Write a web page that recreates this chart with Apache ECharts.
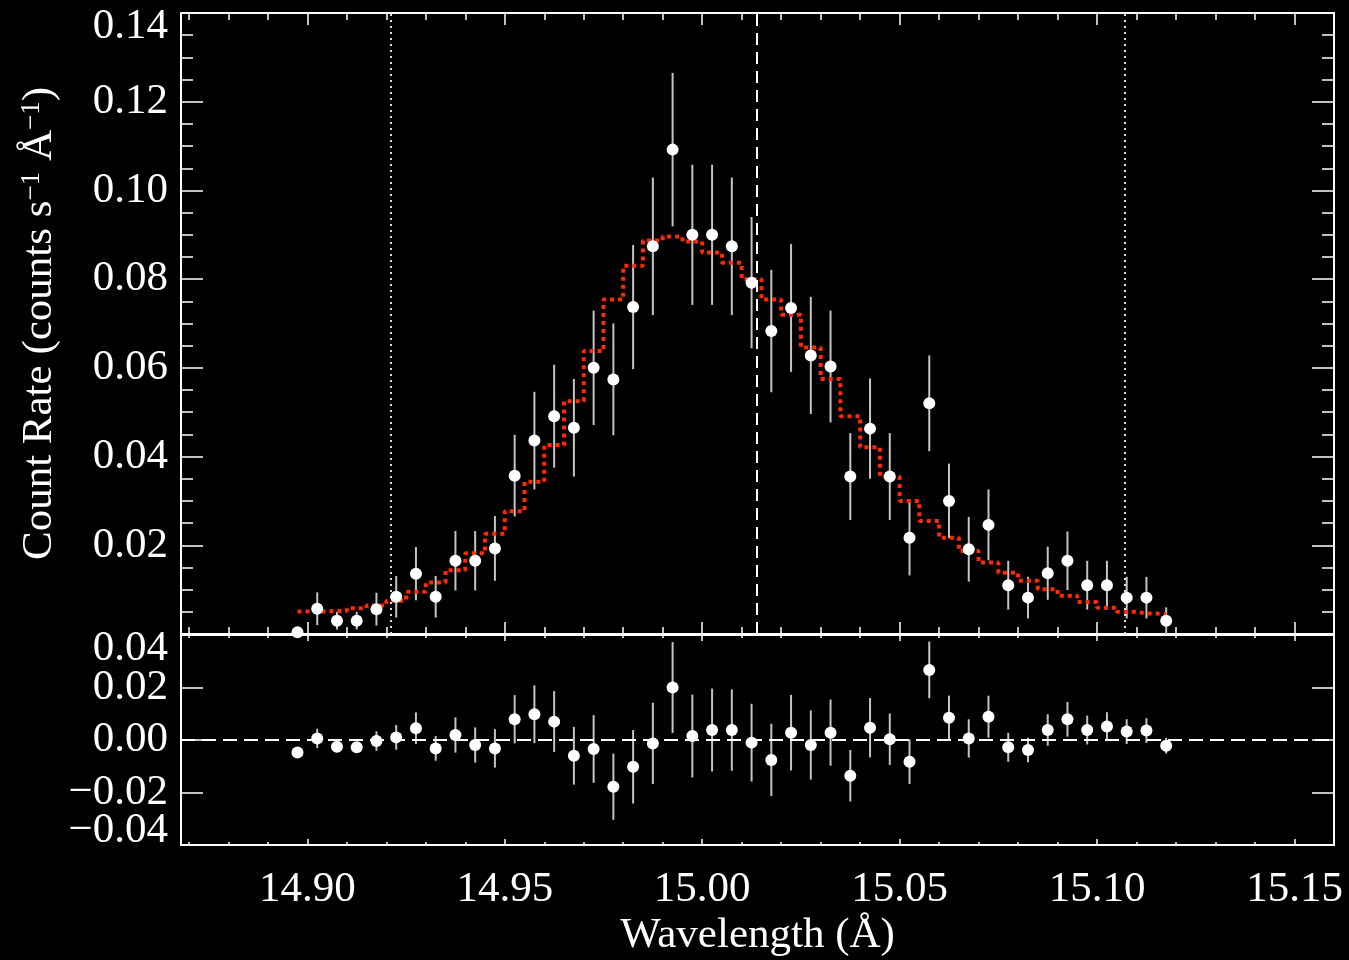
<!DOCTYPE html>
<html>
<head>
<meta charset="utf-8">
<script src="https://cdn.jsdelivr.net/npm/echarts@6/dist/echarts.min.js"></script>
<style>
html,body{margin:0;padding:0;background:#000;}
#chart{width:1349px;height:960px;}
</style>
</head>
<body>
<div id="chart"></div>
<script>
// ---- data ----
const wavelength = [14.8975,14.9025,14.9075,14.9125,14.9175,14.9225,14.9275,14.9325,14.9375,14.9425,
  14.9475,14.9525,14.9575,14.9625,14.9675,14.9725,14.9775,14.9825,14.9875,14.9925,
  14.9975,15.0025,15.0075,15.0125,15.0175,15.0225,15.0275,15.0325,15.0375,15.0425,
  15.0475,15.0525,15.0575,15.0625,15.0675,15.0725,15.0775,15.0825,15.0875,15.0925,
  15.0975,15.1025,15.1075,15.1125,15.1175];
const countRate = [0.0004,0.0057,0.0030,0.0030,0.0056,0.0084,0.0136,0.0084,0.0165,0.0165,
  0.0193,0.0357,0.0436,0.0491,0.0465,0.0600,0.0574,0.0737,0.0874,0.1092,
  0.0900,0.0900,0.0874,0.0792,0.0683,0.0735,0.0628,0.0603,0.0355,0.0463,
  0.0355,0.0217,0.0520,0.0300,0.0191,0.0246,0.0110,0.0082,0.0137,0.0165,
  0.0110,0.0110,0.0082,0.0082,0.0030];
const countErr = [0.0010,0.0037,0.0020,0.0020,0.0037,0.0047,0.0060,0.0047,0.0067,0.0067,
  0.0073,0.0092,0.0110,0.0116,0.0110,0.0129,0.0126,0.0140,0.0155,0.0173,
  0.0158,0.0158,0.0155,0.0148,0.0138,0.0144,0.0132,0.0126,0.0098,0.0113,
  0.0098,0.0085,0.0108,0.0084,0.0073,0.0080,0.0055,0.0047,0.0060,0.0066,
  0.0055,0.0055,0.0047,0.0047,0.0030];
const modelRate = [0.0051,0.0051,0.0052,0.0058,0.0064,0.0075,0.0095,0.0116,0.0144,0.0182,
  0.0226,0.0277,0.0343,0.0426,0.0525,0.0638,0.0754,0.0830,0.0887,0.0896,
  0.0885,0.0860,0.0837,0.0800,0.0754,0.0720,0.0646,0.0575,0.0491,0.0421,
  0.0355,0.0300,0.0255,0.0217,0.0187,0.0161,0.0138,0.0120,0.0101,0.0086,
  0.0072,0.0059,0.0050,0.0046,0.0045];
const residual = [-0.0048,0.0006,-0.0026,-0.0028,-0.0004,0.0010,0.0045,-0.0032,0.0019,-0.0019,
  -0.0032,0.0079,0.0098,0.0070,-0.0060,-0.0034,-0.0178,-0.0102,-0.0013,0.0200,
  0.0015,0.0038,0.0038,-0.0010,-0.0076,0.0028,-0.0019,0.0028,-0.0136,0.0047,
  0.0003,-0.0083,0.0267,0.0085,0.0006,0.0089,-0.0028,-0.0038,0.0038,0.0079,
  0.0038,0.0051,0.0032,0.0036,-0.0022];
const refLines = [14.921, 15.0139, 15.1071];      // dotted, dashed, dotted
const xMajorTicks = [14.90,14.95,15.00,15.05,15.10,15.15];
const xMinorTicks = [14.87,14.88,14.89,14.91,14.92,14.93,14.94,14.96,14.97,14.98,14.99,
  15.01,15.02,15.03,15.04,15.06,15.07,15.08,15.09,15.11,15.12,15.13,15.14,15.16];
const xRange = [14.868, 15.16];
const resInnerLabels = [-0.02, 0.00, 0.02];
const resTopLabel = [0.04];
const resBottomLabel = [-0.04];

const FONT = '"Liberation Serif", "Times New Roman", serif';
const WHITE = '#ffffff';

function fmtY(v){
  const s = Math.abs(v).toFixed(2);
  return (v < -1e-9 ? '\u2212' : '') + s;
}

function xAxisDef(grid, pos, ticks, len, showLine, showLabel){
  return {
    type:'value', gridIndex:grid, position:pos, min:xRange[0], max:xRange[1],
    axisLine:{show:showLine, onZero:false, lineStyle:{color:WHITE, width:2}},
    axisTick:{show:true, inside:true, length:len, customValues:ticks, lineStyle:{color:WHITE, width:1.5}},
    axisLabel:{show:showLabel, customValues:ticks, color:WHITE, fontFamily:FONT, fontSize:43, margin:23,
      formatter:(v)=>v.toFixed(2)},
    splitLine:{show:false}
  };
}

function resLabelAxis(values, vAlign){
  return {type:'value', gridIndex:1, position:'left', min:-0.04, max:0.04,
    axisLine:{show:false}, axisTick:{show:false}, splitLine:{show:false},
    axisLabel:{show:true, customValues:values, color:WHITE, fontFamily:FONT, fontSize:43, lineHeight:28,
      margin:13, verticalAlign:vAlign, formatter:fmtY}};
}

const errRender = function(params, api){
  const x = api.value(0), y = api.value(1), e = api.value(2);
  const p1 = api.coord([x, y - e]);
  const p2 = api.coord([x, y + e]);
  return {type:'line', shape:{x1:p1[0], y1:p1[1], x2:p2[0], y2:p2[1]},
    style:{stroke:'#c4c4c4', lineWidth:2}};
};

const topPts = wavelength.map((w,i)=>[w, countRate[i]]);
const topErr = wavelength.map((w,i)=>[w, countRate[i], countErr[i]]);
const modelPts = wavelength.map((w,i)=>[w, modelRate[i]]);
const resPts = wavelength.map((w,i)=>[w, residual[i]]);
const resErr = wavelength.map((w,i)=>[w, residual[i], countErr[i]]);

const chart = echarts.init(document.getElementById('chart'), null, {renderer:'canvas'});
chart.setOption({
  backgroundColor:'#000000',
  animation:false,
  grid:[
    {left:181, width:1153, top:13, height:621},
    {left:181, width:1153, top:635, height:210}
  ],
  xAxis:[
    xAxisDef(0,'bottom',xMajorTicks,12,true,false),
    xAxisDef(0,'bottom',xMinorTicks,7,false,false),
    xAxisDef(0,'top',xMajorTicks,12,true,false),
    xAxisDef(0,'top',xMinorTicks,7,false,false),
    Object.assign(xAxisDef(1,'bottom',xMajorTicks,6,true,true), {
      name:'Wavelength (\u00C5)', nameLocation:'middle', nameGap:69,
      nameTextStyle:{color:WHITE, fontFamily:FONT, fontSize:43}
    }),
    xAxisDef(1,'bottom',xMinorTicks,3,false,false),
    xAxisDef(1,'top',xMajorTicks,6,true,false),
    xAxisDef(1,'top',xMinorTicks,3,false,false)
  ],
  yAxis:[
    {type:'value', gridIndex:0, position:'left', min:0, max:0.14, interval:0.02,
      axisLine:{show:true, lineStyle:{color:WHITE, width:2}},
      axisTick:{show:true, inside:true, length:22, lineStyle:{color:WHITE, width:1.5}},
      minorTick:{show:true, splitNumber:4, length:12, lineStyle:{color:WHITE, width:1.5}},
      axisLabel:{show:true, color:WHITE, fontFamily:FONT, fontSize:43, lineHeight:28, margin:13,
        showMinLabel:false, showMaxLabel:true,
        verticalAlignMaxLabel:'top', formatter:fmtY},
      splitLine:{show:false},
      name:'Count Rate (counts s{sup|\u22121} \u00C5{sup|\u22121})', nameLocation:'middle', nameGap:120, nameRotate:90,
      nameTextStyle:{color:WHITE, fontFamily:FONT, fontSize:43,
        rich:{sup:{color:WHITE, fontFamily:FONT, fontSize:27, verticalAlign:'top'}}}
    },
    {type:'value', gridIndex:0, position:'right', min:0, max:0.14, interval:0.02,
      axisLine:{show:true, lineStyle:{color:WHITE, width:2}},
      axisTick:{show:true, inside:true, length:22, lineStyle:{color:WHITE, width:1.5}},
      minorTick:{show:true, splitNumber:4, length:12, lineStyle:{color:WHITE, width:1.5}},
      axisLabel:{show:false}, splitLine:{show:false}
    },
    {type:'value', gridIndex:1, position:'left', min:-0.04, max:0.04, interval:0.02,
      axisLine:{show:true, onZero:false, lineStyle:{color:WHITE, width:2}},
      axisTick:{show:true, inside:true, length:22, lineStyle:{color:WHITE, width:1.5}},
      axisLabel:{show:true, customValues:resInnerLabels, color:WHITE, fontFamily:FONT, fontSize:43, lineHeight:28, margin:13,
        formatter:fmtY},
      splitLine:{show:false}
    },
    {type:'value', gridIndex:1, position:'right', min:-0.04, max:0.04, interval:0.02,
      axisLine:{show:true, onZero:false, lineStyle:{color:WHITE, width:2}},
      axisTick:{show:true, inside:true, length:22, lineStyle:{color:WHITE, width:1.5}},
      axisLabel:{show:false}, splitLine:{show:false}
    },
    resLabelAxis(resTopLabel, 'top'),
    resLabelAxis(resBottomLabel, 'bottom')
  ],
  series:[
    {type:'custom', name:'err', xAxisIndex:0, yAxisIndex:0, data:topErr, renderItem:errRender, clip:true, silent:true, z:2},
    {type:'line', name:'model', xAxisIndex:0, yAxisIndex:0, data:modelPts, step:'middle', showSymbol:false,
      lineStyle:{color:'#ff2a00', width:4, type:[4,4]}, z:3, silent:true,
      markLine:{silent:true, precision:5, symbol:['none','none'], label:{show:false},
        data:[
          {xAxis:refLines[0], lineStyle:{color:'#dddddd', width:2, type:[2,4]}},
          {xAxis:refLines[1], lineStyle:{color:'#ffffff', width:2, type:[12,7]}},
          {xAxis:refLines[2], lineStyle:{color:'#dddddd', width:2, type:[2,4]}}
        ]}
    },
    {type:'scatter', name:'data', xAxisIndex:0, yAxisIndex:0, data:topPts, symbol:'circle', symbolSize:12,
      itemStyle:{color:'#ffffff', opacity:1}, z:5, silent:true},
    {type:'custom', name:'resErr', xAxisIndex:4, yAxisIndex:2, data:resErr, renderItem:errRender, clip:true, silent:true, z:2},
    {type:'scatter', name:'resid', xAxisIndex:4, yAxisIndex:2, data:resPts, symbol:'circle', symbolSize:12,
      itemStyle:{color:'#ffffff', opacity:1}, z:5, silent:true,
      markLine:{silent:true, symbol:['none','none'], label:{show:false},
        data:[{yAxis:0, lineStyle:{color:'#ffffff', width:2, type:[14,7]}}]}
    }
  ]
});
</script>
</body>
</html>
